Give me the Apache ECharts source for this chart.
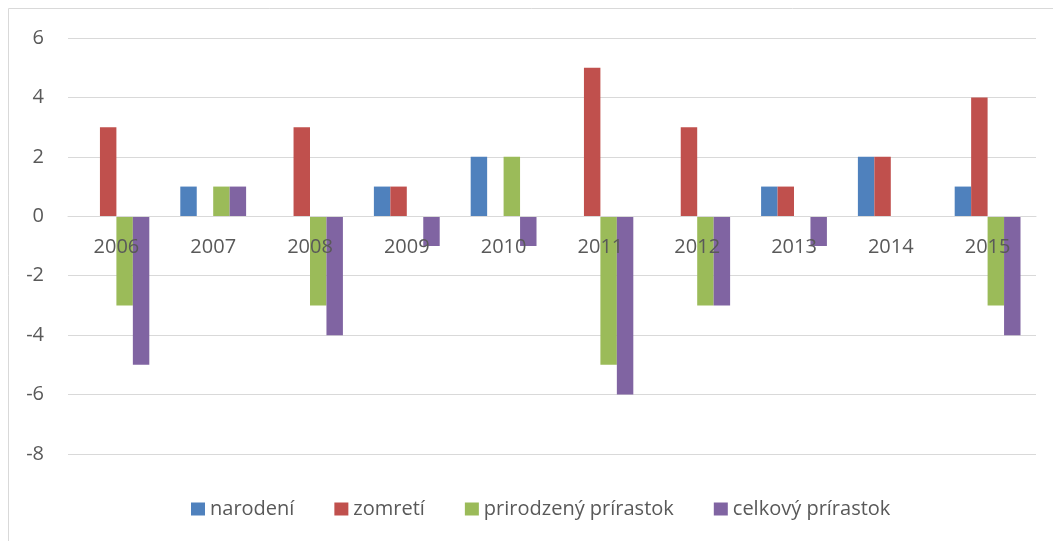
<!DOCTYPE html>
<html><head><meta charset="utf-8">
<script src="https://cdn.jsdelivr.net/npm/echarts@6/dist/echarts.min.js"></script>
<style>html,body{margin:0;padding:0;background:#fff}#c{width:1053px;height:541px}</style>
</head><body><div id="c"></div>
<script>
const categories = ['2006','2007','2008','2009','2010','2011','2012','2013','2014','2015'];
const narodeni = [0,1,0,1,2,0,0,1,2,1];
const zomreti = [3,0,3,1,0,5,3,1,2,4];
const prirodzeny = [-3,1,-3,0,2,-5,-3,0,0,-3];
const celkovy = [-5,1,-4,-1,-1,-6,-3,-1,0,-4];
const seriesNames = ['narodení','zomretí','prirodzený prírastok','celkový prírastok'];
const colors = ['#4F81BD','#C0504D','#9BBB59','#8064A2'];

const chart = echarts.init(document.getElementById('c'));
const font = 'Open Sans, sans-serif';
const mk = (name, data, i) => ({
  name, type: 'bar', data, barGap: '0%', barCategoryGap: '32%', z: 2,
  itemStyle: {color: colors[i]}
});
chart.setOption({
  animation: false,
  textStyle: {fontFamily: font},
  graphic: [{type: 'rect', shape: {x: 8.5, y: 8.5, width: 1100, height: 1100},
    style: {fill: 'none', stroke: '#d9d9d9', lineWidth: 1}, silent: true}],
  grid: {left: 68, right: 17, top: 38, bottom: 87},
  legend: {
    top: 494, left: 186, itemWidth: 14, itemHeight: 13, itemGap: 40,
    icon: 'rect', textStyle: {color: '#595959', fontSize: 20, fontFamily: font}
  },
  xAxis: {
    type: 'category', data: categories, offset: -238, z: 10,
    axisLine: {show: true, onZero: false, lineStyle: {color: '#d9d9d9', width: 1}},
    axisTick: {show: false},
    axisLabel: {color: '#595959', fontSize: 20, fontFamily: font, margin: 21}
  },
  yAxis: {
    type: 'value', min: -8, max: 6, interval: 2,
    axisLine: {show: false}, axisTick: {show: false},
    splitLine: {lineStyle: {color: '#d9d9d9', width: 1}},
    axisLabel: {color: '#595959', fontSize: 20, fontFamily: font, margin: 24}
  },
  series: [mk(seriesNames[0], narodeni, 0), mk(seriesNames[1], zomreti, 1),
           mk(seriesNames[2], prirodzeny, 2), mk(seriesNames[3], celkovy, 3)]
});
</script></body></html>
